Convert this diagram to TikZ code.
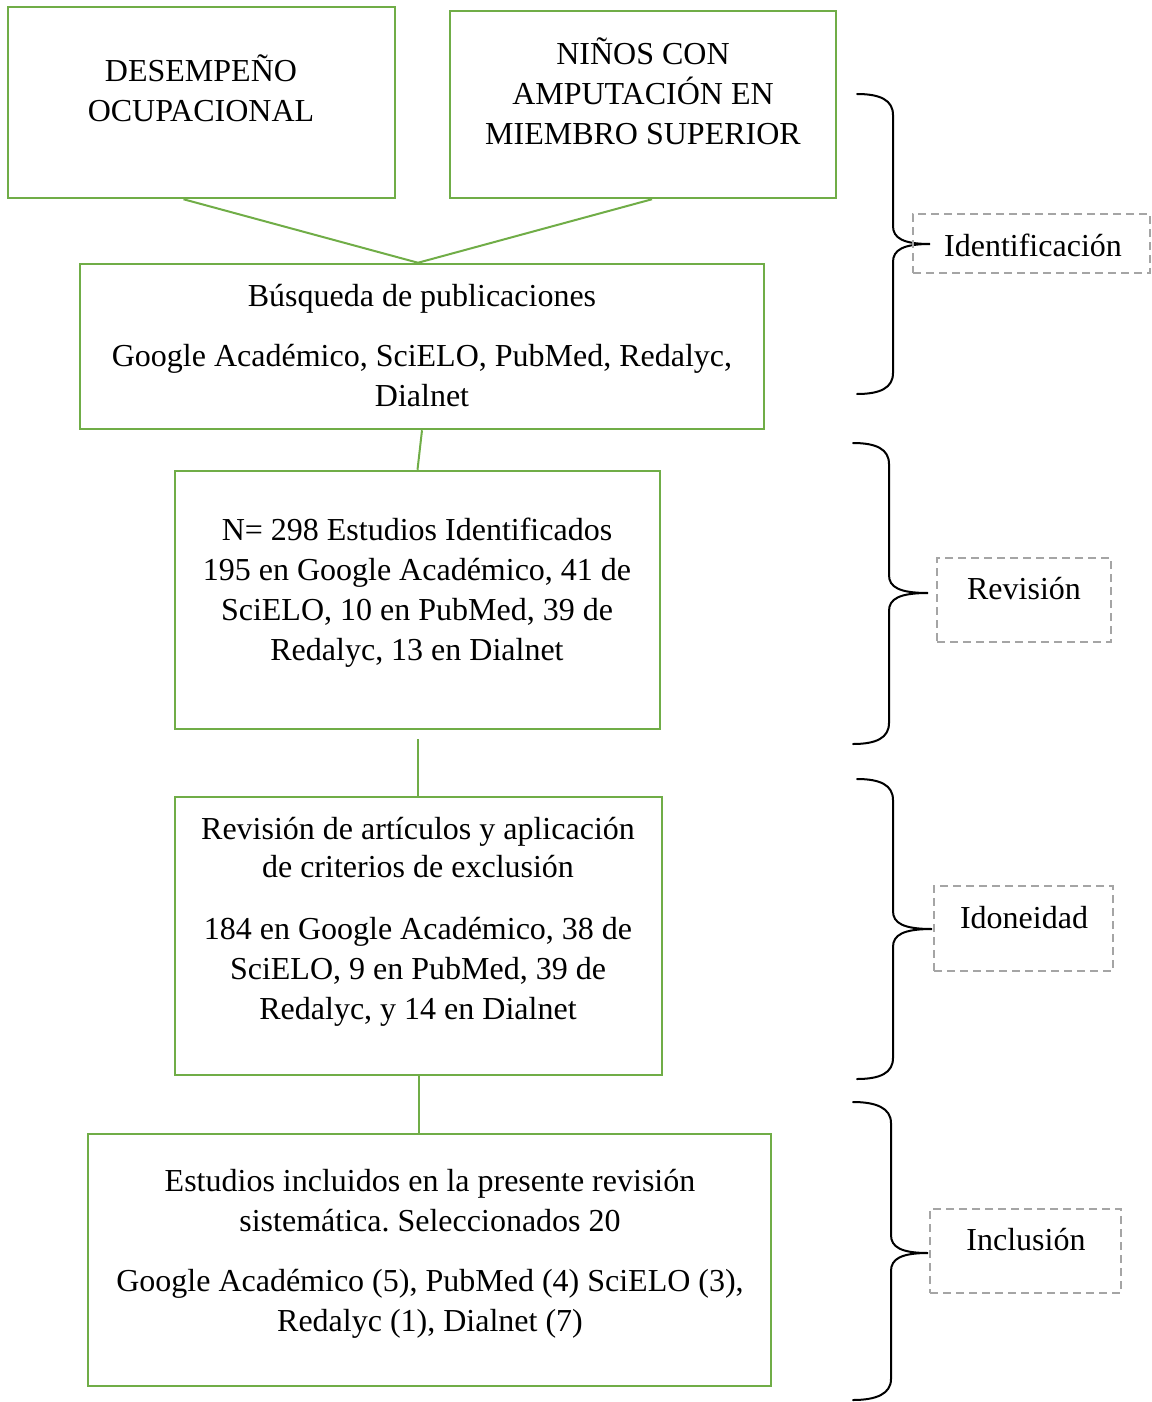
\documentclass[tikz,border=0pt]{standalone}
\usepackage{fontspec}
\setmainfont{Liberation Serif}
\usepackage{tikz}
\usetikzlibrary{calc}
\definecolor{boxgreen}{RGB}{112,173,71}
\definecolor{labelgray}{RGB}{165,165,165}
\tikzset{every picture/.style={line width=0.75pt}}

\begin{document}
\begin{tikzpicture}[x=1pt,y=1pt,yscale=-1,xscale=1,
  greenbox/.style={draw=boxgreen,line width=2.5pt,inner sep=0pt},
  link/.style={draw=boxgreen,line width=2pt},
  grayframe/.style={draw=labelgray,line width=2pt,dash pattern=on 8pt off 5pt,inner sep=0pt},
  txt/.style={align=center,inner sep=0pt,font=\fontsize{32}{40}\selectfont\frenchspacing},
  curly/.style={line width=2pt,line cap=round}]
\useasboundingbox (0,0) rectangle (1151,1402);

%Rect [id:desemp] 
\node[greenbox,minimum width=387pt,minimum height=191pt] (desemp) at (201.5,102.5) {};
%Rect [id:ninos] 
\node[greenbox,minimum width=386pt,minimum height=187pt] (ninos) at (643,104.5) {};
%Rect [id:busq] 
\node[greenbox,minimum width=684pt,minimum height=165pt] (busq) at (422,346.5) {};
%Rect [id:estud] 
\node[greenbox,minimum width=485pt,minimum height=258pt] (estud) at (417.5,600) {};
%Rect [id:revis] 
\node[greenbox,minimum width=487pt,minimum height=278pt] (revis) at (418.5,936) {};
%Rect [id:incl] 
\node[greenbox,minimum width=683pt,minimum height=252pt] (incl) at (429.5,1260) {};

%Straight Lines [id:desemp-busq] 
\draw[link] ([xshift=-18pt]desemp.south) -- ([xshift=-4pt]busq.north);
%Straight Lines [id:ninos-busq] 
\draw[link] ([xshift=9pt]ninos.south) -- ([xshift=-4pt]busq.north);
%Straight Lines [id:busq-estud] 
\draw[link] (busq.south) -- (estud.north);
%Straight Lines [id:estud-revis] 
\draw[link] ([yshift=9pt]estud.south) -- (estud.south |- revis.north);
%Straight Lines [id:revis-incl] 
\draw[link] (revis.south) -- (revis.south |- incl.north);

%Curve Lines [id:llave1] 
\draw[curly] (857,94) .. controls (880,94) and (893,100) .. (893,115) -- (893,226) .. controls (893,238) and (903,244) .. (930,244) .. controls (903,244) and (893,250) .. (893,262) -- (893,373) .. controls (893,388) and (880,394) .. (857,394) ;
%Curve Lines [id:llave2] 
\draw[curly] (853,443) .. controls (876,443) and (889,449) .. (889,464) -- (889,575) .. controls (889,587) and (899,593) .. (928,593) .. controls (899,593) and (889,599) .. (889,611) -- (889,723) .. controls (889,738) and (876,744) .. (853,744) ;
%Curve Lines [id:llave3] 
\draw[curly] (857,779) .. controls (880,779) and (893,785) .. (893,800) -- (893,911) .. controls (893,923) and (903,929) .. (932,929) .. controls (903,929) and (893,935) .. (893,947) -- (893,1058) .. controls (893,1073) and (880,1079) .. (857,1079) ;
%Curve Lines [id:llave4] 
\draw[curly] (853,1102) .. controls (876,1102) and (891,1108) .. (891,1123) -- (891,1235) .. controls (891,1247) and (901,1253) .. (928,1253) .. controls (901,1253) and (891,1259) .. (891,1271) -- (891,1379) .. controls (891,1394) and (876,1400) .. (853,1400) ;

%Dashed Rect [id:f1] 
\node[grayframe,minimum width=237pt,minimum height=59pt] (fident) at (1031.5,243.5) {};
%Dashed Rect [id:f2] 
\node[grayframe,minimum width=174pt,minimum height=84pt] (frevi) at (1024,600) {};
%Dashed Rect [id:f3] 
\node[grayframe,minimum width=179pt,minimum height=85pt] (fidon) at (1023.5,928.5) {};
%Dashed Rect [id:f4] 
\node[grayframe,minimum width=191pt,minimum height=84pt] (fincl) at (1025.5,1251) {};

% Text Node
\node[txt] (desemptxt) at (201,88.5) {DESEMPEÑO\\OCUPACIONAL};
% Text Node
\node[txt] (ninostxt) at (643,91) {NIÑOS CON\\AMPUTACIÓN EN\\MIEMBRO SUPERIOR};
% Text Node
\node[txt] (busqtxt) at (422,345.5) {Búsqueda de publicaciones\\[20pt]Google Académico, SciELO, PubMed, Redalyc,\\Dialnet};
% Text Node
\node[txt] (estudtxt) at (417,593) {N= 298 Estudios Identificados\\195 en Google Académico, 41 de\\SciELO, 10 en PubMed, 39 de\\Redalyc, 13 en Dialnet};
% Text Node
\node[txt] (revistxt) at (418,921.5) {Revisión de artículos y aplicación\\[-2pt]de criterios de exclusión\\[22pt]184 en Google Académico, 38 de\\SciELO, 9 en PubMed, 39 de\\Redalyc, y 14 en Dialnet};
% Text Node
\node[txt] (incltxt) at (430,1253.5) {Estudios incluidos en la presente revisión\\sistemática. Seleccionados 20\\[20pt]Google Académico (5), PubMed (4) SciELO (3),\\Redalyc (1), Dialnet (7)};
% Text Node
\node[txt] (identtxt) at (1033,245) {Identificación};
% Text Node
\node[txt] (revitxt) at (1024,589) {Revisión};
% Text Node
\node[txt] (idontxt) at (1024,918) {Idoneidad};
% Text Node
\node[txt] (incltag) at (1026,1240) {Inclusión};

\end{tikzpicture}
\end{document}
